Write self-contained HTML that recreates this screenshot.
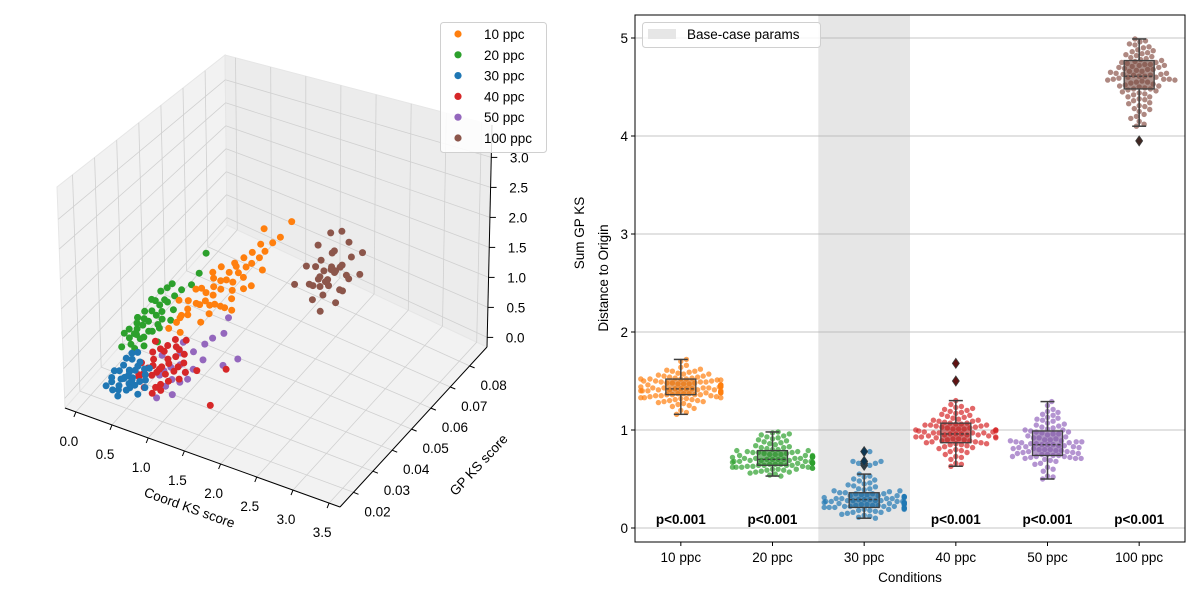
<!DOCTYPE html>
<html><head><meta charset="utf-8"><style>
html,body{margin:0;padding:0;background:#fff;}
svg{display:block;font-family:"Liberation Sans","DejaVu Sans",sans-serif;}
</style></head><body>
<svg id="fig" width="1200" height="600" viewBox="0 0 1200 600" xmlns="http://www.w3.org/2000/svg">
<g id="left"></g>
<g id="right"></g>
</svg>
<script>
// ---------- 3D scatter data ----------
const groupNames3d = ["10 ppc","20 ppc","30 ppc","40 ppc","50 ppc","100 ppc"];
const groupColors = ["#ff7f0e","#2ca02c","#1f77b4","#d62728","#9467bd","#8c564b"];
const xTicks3d = [0.0,0.5,1.0,1.5,2.0,2.5,3.0,3.5];
const yTicks3d = [0.02,0.03,0.04,0.05,0.06,0.07,0.08];
const zTicks3d = [0.0,0.5,1.0,1.5,2.0,2.5,3.0];
const pts10 = [[0.75,0.032,0.85],[0.82,0.035,0.95],[0.9,0.036,1.0],[0.95,0.04,1.05],[1.0,0.041,1.1],[1.05,0.043,1.15],[1.1,0.045,1.2],[1.12,0.047,1.3],[1.18,0.048,1.25],[1.2,0.05,1.35],[1.25,0.052,1.4],[1.3,0.053,1.45],[1.35,0.055,1.5],[1.4,0.056,1.6],[0.85,0.038,1.15],[0.92,0.042,1.25],[1.0,0.045,1.35],[1.08,0.04,0.95],[1.15,0.043,1.0],[1.22,0.046,1.05],[1.3,0.049,1.15],[0.78,0.036,1.2],[1.45,0.058,1.7],[1.5,0.06,1.75],[1.38,0.05,1.2],[1.02,0.038,0.85],[0.88,0.033,0.8],[1.6,0.062,2.0],[1.25,0.045,0.9],[1.15,0.05,1.5],[0.96,0.046,1.4],[1.33,0.058,1.9],
 [0.8,0.034,0.9],[0.87,0.037,1.05],[0.93,0.039,1.1],[0.98,0.042,1.2],[1.03,0.044,1.25],[1.07,0.046,1.3],[1.13,0.048,1.4],[1.17,0.05,1.45],[1.22,0.052,1.55],[1.28,0.054,1.6],[1.34,0.056,1.7],[0.9,0.04,1.3],[1.0,0.043,0.95],[1.1,0.042,1.05],[1.2,0.047,1.15],[1.27,0.05,1.3],[1.42,0.054,1.35],[0.84,0.035,1.0],[1.05,0.047,1.5],[1.18,0.044,0.95]];
const pts20 = [[0.35,0.027,0.7],[0.4,0.029,0.8],[0.45,0.03,0.85],[0.5,0.031,0.9],[0.55,0.033,0.95],[0.6,0.034,1.0],[0.42,0.032,1.0],[0.48,0.035,1.1],[0.38,0.03,0.95],[0.52,0.028,0.75],[0.58,0.03,0.8],[0.62,0.036,1.1],[0.66,0.038,1.15],[0.7,0.04,1.2],[0.45,0.026,0.6],[0.55,0.027,0.65],[0.65,0.031,0.85],[0.3,0.025,0.6],[0.72,0.034,0.9],[0.5,0.037,1.2],[0.6,0.039,1.3],[0.78,0.042,1.25],[0.35,0.031,0.9],[0.68,0.029,0.7],[0.8,0.045,1.35],[0.42,0.028,0.75],[0.75,0.05,1.5],
 [0.32,0.028,0.8],[0.37,0.03,0.85],[0.44,0.031,0.92],[0.49,0.033,1.0],[0.54,0.035,1.05],[0.58,0.036,1.12],[0.63,0.033,0.92],[0.4,0.026,0.65],[0.47,0.028,0.7],[0.53,0.03,0.78],[0.6,0.032,0.85],[0.28,0.027,0.75],[0.46,0.034,1.15],[0.56,0.038,1.25],[0.7,0.036,1.0],[0.36,0.029,0.7]];
const pts30 = [[0.3,0.02,0.2],[0.42,0.022,0.25],[0.55,0.021,0.3],[0.35,0.024,0.35],[0.48,0.025,0.28],[0.6,0.023,0.22],[0.25,0.019,0.15],[0.4,0.02,0.18],[0.52,0.026,0.4],[0.65,0.024,0.32],[0.38,0.027,0.45],[0.45,0.023,0.12],[0.58,0.019,0.26],[0.28,0.022,0.3],[0.7,0.022,0.2],[0.33,0.026,0.38],[0.5,0.021,0.35],[0.62,0.027,0.3],[0.44,0.018,0.1],[0.36,0.021,0.05],[0.55,0.024,0.42],[0.47,0.02,0.33],[0.66,0.02,0.15],[0.4,0.025,0.22],
 [0.32,0.023,0.28],[0.37,0.022,0.2],[0.43,0.024,0.3],[0.5,0.023,0.24],[0.56,0.022,0.18],[0.61,0.025,0.36],[0.27,0.021,0.22],[0.41,0.026,0.4],[0.53,0.019,0.2],[0.46,0.027,0.5],[0.68,0.023,0.28],[0.34,0.019,0.12]];
const pts40 = [[0.65,0.021,0.4],[0.72,0.023,0.5],[0.8,0.022,0.45],[0.88,0.024,0.55],[0.95,0.025,0.6],[0.7,0.026,0.65],[0.78,0.027,0.7],[0.85,0.028,0.75],[0.92,0.022,0.35],[1.0,0.023,0.4],[1.05,0.026,0.55],[1.1,0.027,0.6],[0.75,0.02,0.3],[0.82,0.025,0.45],[0.9,0.03,0.8],[0.6,0.024,0.5],[0.98,0.029,0.7],[1.12,0.024,0.45],[0.68,0.028,0.75],[0.86,0.02,0.25],[1.05,0.03,0.85],[0.95,0.021,0.3],[1.55,0.024,0.2],[1.6,0.03,0.6],[1.25,0.028,0.5],
 [0.68,0.022,0.42],[0.76,0.024,0.52],[0.84,0.023,0.48],[0.91,0.026,0.62],[0.99,0.027,0.66],[0.74,0.025,0.58],[0.83,0.027,0.68],[0.93,0.024,0.45],[1.02,0.025,0.5],[1.08,0.028,0.7],[0.62,0.022,0.38],[0.88,0.021,0.32],[0.97,0.028,0.78],[1.15,0.026,0.5]];
const pts50 = [[0.85,0.024,0.4],[0.95,0.026,0.5],[1.05,0.027,0.55],[1.1,0.025,0.35],[0.9,0.022,0.3],[1.0,0.029,0.65],[1.15,0.03,0.7],[1.2,0.028,0.5],[0.8,0.027,0.6],[1.08,0.022,0.25],[1.25,0.032,0.8],[1.3,0.034,0.85],[1.4,0.036,0.9],[0.98,0.031,0.75],[1.5,0.032,0.55],[1.62,0.035,0.6],[1.35,0.04,1.0],[0.92,0.02,0.2],
 [0.88,0.025,0.45],[1.02,0.024,0.4],[1.12,0.027,0.45],[0.96,0.023,0.3],[1.18,0.026,0.4],[1.28,0.03,0.62]];
const pts100 = [[2.0,0.062,1.2],[2.1,0.064,1.3],[2.05,0.066,1.25],[1.95,0.063,1.1],[2.15,0.061,1.15],[2.2,0.065,1.35],[1.9,0.066,1.3],[2.25,0.063,1.05],[2.0,0.068,1.4],[2.1,0.06,1.0],[1.85,0.062,1.0],[2.3,0.067,1.5],[2.18,0.07,1.6],[1.98,0.059,0.9],[2.28,0.06,0.95],[1.8,0.068,1.45],[2.35,0.064,1.25],[2.05,0.071,1.7],[1.75,0.064,1.2],[2.12,0.058,0.8],[2.4,0.069,1.55],[1.92,0.07,1.65],[2.22,0.062,1.4],[2.02,0.064,1.05],[1.7,0.06,1.0],[2.45,0.066,1.3],
 [2.08,0.063,1.15],[2.12,0.065,1.22],[1.97,0.065,1.18],[2.03,0.061,1.08],[2.17,0.067,1.3],[2.26,0.066,1.2],[1.93,0.061,1.05],[2.14,0.063,1.35],[2.06,0.067,1.5],[1.88,0.064,1.25],[2.32,0.062,1.1]];
const groups3d = [pts10,pts20,pts30,pts40,pts50,pts100];

// ---------- swarm/box data ----------
const categories = ["10 ppc","20 ppc","30 ppc","40 ppc","50 ppc","100 ppc"];
const yTicksR = [0,1,2,3,4,5];
const pLabels = ["p<0.001","p<0.001","","p<0.001","p<0.001","p<0.001"];
const boxQ1 = [1.36,0.64,0.21,0.87,0.74,4.48];
const boxMed = [1.42,0.70,0.29,0.96,0.85,4.61];
const boxQ3 = [1.52,0.79,0.36,1.07,0.99,4.77];
const whiskLo = [1.16,0.53,0.10,0.63,0.50,4.10];
const whiskHi = [1.72,0.98,0.55,1.30,1.29,4.99];
const outliers = [[],[],[0.64,0.66,0.68,0.78],[1.50,1.68],[],[3.95]];
const v10 = [1.16,1.18,1.22,1.25,1.27,1.28,1.29,1.30,1.31,1.32,1.33,1.33,1.34,1.35,1.35,1.36,1.36,1.37,1.37,1.38,1.38,1.39,1.39,1.40,1.40,1.41,1.41,1.42,1.42,1.42,1.43,1.43,1.44,1.44,1.45,1.45,1.46,1.46,1.47,1.47,1.48,1.48,1.49,1.50,1.50,1.51,1.52,1.52,1.53,1.54,1.55,1.56,1.57,1.58,1.60,1.60,1.62,1.66,1.70,1.72,
 1.20,1.24,1.26,1.29,1.30,1.31,1.32,1.33,1.34,1.35,1.36,1.37,1.38,1.39,1.40,1.40,1.41,1.42,1.43,1.43,1.44,1.45,1.45,1.46,1.47,1.48,1.49,1.49,1.50,1.51,1.52,1.53,1.54,1.55,1.57,1.59,1.61,1.64,1.38,1.41,1.44,1.46,1.36,1.52];
const v20 = [0.53,0.55,0.56,0.57,0.58,0.59,0.60,0.60,0.61,0.62,0.62,0.63,0.63,0.64,0.64,0.65,0.65,0.66,0.66,0.67,0.67,0.68,0.68,0.69,0.69,0.70,0.70,0.71,0.71,0.72,0.72,0.73,0.73,0.74,0.75,0.75,0.76,0.77,0.77,0.78,0.79,0.80,0.81,0.82,0.83,0.85,0.86,0.88,0.90,0.92,0.93,0.95,0.96,0.98,
 0.54,0.57,0.59,0.60,0.61,0.62,0.63,0.64,0.65,0.66,0.67,0.68,0.69,0.70,0.70,0.71,0.72,0.73,0.74,0.74,0.75,0.76,0.77,0.78,0.79,0.80,0.82,0.84,0.87,0.89,0.91,0.94,0.97,0.66,0.68,0.71,0.73,0.62,0.64];
const v30 = [0.10,0.12,0.13,0.15,0.16,0.17,0.18,0.19,0.19,0.20,0.20,0.21,0.21,0.22,0.22,0.23,0.23,0.24,0.24,0.25,0.25,0.26,0.26,0.27,0.27,0.28,0.28,0.29,0.29,0.30,0.30,0.31,0.31,0.32,0.32,0.33,0.33,0.34,0.35,0.35,0.36,0.37,0.38,0.39,0.40,0.42,0.44,0.46,0.48,0.50,0.52,0.55,0.64,0.66,0.68,0.78,
 0.11,0.14,0.16,0.18,0.19,0.20,0.21,0.22,0.23,0.24,0.25,0.26,0.27,0.28,0.29,0.30,0.31,0.32,0.33,0.34,0.36,0.38,0.40,0.43,0.45,0.49,0.53,0.22,0.24,0.26,0.28,0.30,0.20,0.25,0.35,0.21,0.27];
const v40 = [0.63,0.66,0.70,0.73,0.75,0.77,0.79,0.81,0.82,0.84,0.85,0.86,0.87,0.88,0.89,0.90,0.91,0.92,0.93,0.93,0.94,0.95,0.95,0.96,0.96,0.97,0.97,0.98,0.99,1.00,1.00,1.01,1.02,1.03,1.04,1.05,1.05,1.06,1.07,1.08,1.09,1.10,1.11,1.12,1.14,1.15,1.17,1.19,1.21,1.23,1.26,1.30,
 0.65,0.72,0.78,0.80,0.83,0.85,0.87,0.88,0.90,0.91,0.92,0.94,0.95,0.96,0.97,0.98,0.99,1.00,1.01,1.02,1.03,1.04,1.06,1.07,1.09,1.10,1.13,1.16,1.18,1.20,1.22,1.24,0.93,0.97,1.01,1.05,0.89,0.86];
const v50 = [0.50,0.53,0.58,0.62,0.65,0.68,0.70,0.71,0.72,0.73,0.74,0.75,0.76,0.77,0.78,0.79,0.80,0.80,0.81,0.82,0.83,0.84,0.85,0.85,0.86,0.87,0.88,0.89,0.90,0.91,0.92,0.93,0.95,0.96,0.97,0.98,0.99,1.00,1.01,1.03,1.05,1.07,1.09,1.11,1.13,1.15,1.18,1.21,1.25,1.29,
 0.52,0.60,0.66,0.69,0.71,0.72,0.73,0.74,0.75,0.76,0.77,0.78,0.79,0.80,0.82,0.83,0.84,0.86,0.87,0.88,0.89,0.90,0.92,0.94,0.96,0.98,1.00,1.02,1.04,1.06,1.10,1.12,1.16,1.19,0.71,0.73,0.81,0.85,0.88];
const v100 = [4.10,4.15,4.20,4.25,4.28,4.30,4.33,4.36,4.38,4.40,4.42,4.44,4.46,4.47,4.48,4.50,4.51,4.52,4.54,4.55,4.56,4.57,4.58,4.59,4.60,4.61,4.62,4.63,4.64,4.65,4.66,4.68,4.69,4.70,4.72,4.73,4.74,4.75,4.77,4.78,4.80,4.82,4.84,4.86,4.88,4.90,4.93,4.96,4.99,
 4.12,4.18,4.22,4.27,4.31,4.34,4.37,4.40,4.43,4.45,4.48,4.49,4.51,4.53,4.55,4.57,4.58,4.60,4.61,4.62,4.64,4.66,4.67,4.70,4.71,4.73,4.75,4.76,4.79,4.81,4.83,4.85,4.87,4.91,4.94,4.97,4.58,4.63,4.68,4.72];
const swarmValues = [v10,v20,v30,v40,v50,v100];

const NS="http://www.w3.org/2000/svg";
function mk(parent,tag,attrs,text){const e=document.createElementNS(NS,tag);for(const k in attrs)e.setAttribute(k,attrs[k]);if(text!==undefined)e.textContent=text;parent.appendChild(e);return e;}

// ---------- 3D ----------
const L=document.getElementById('left');
const xr=[-0.15,3.65], yr=[0.013,0.089], zr=[-0.16,3.54];
// corner screen positions C[ix][iy][iz]
const C=[[[[65,408],[57,187]],[[227,225],[225,55]]],[[[340,507],[345,265]],[[487,347],[492,125]]]];
function lerp(a,b,t){return [a[0]+(b[0]-a[0])*t,a[1]+(b[1]-a[1])*t];}
function proj(x,y,z){const ux=(x-xr[0])/(xr[1]-xr[0]), uy=(y-yr[0])/(yr[1]-yr[0]), uz=(z-zr[0])/(zr[1]-zr[0]);
 const b0=lerp(lerp(C[0][0][0],C[1][0][0],ux),lerp(C[0][1][0],C[1][1][0],ux),uy);
 const b1=lerp(lerp(C[0][0][1],C[1][0][1],ux),lerp(C[0][1][1],C[1][1][1],ux),uy);
 return lerp(b0,b1,uz);}
function poly(pts){return pts.map(p=>p[0].toFixed(1)+','+p[1].toFixed(1)).join(' ');}
const X0=xr[0],X1=xr[1],Y0=yr[0],Y1=yr[1],Z0=zr[0],Z1=zr[1];
const floor=mk(L,'polygon',{points:poly([proj(X0,Y0,Z0),proj(X1,Y0,Z0),proj(X1,Y1,Z0),proj(X0,Y1,Z0)]),fill:'#f2f2f2',stroke:'#e6e6e6'});

const lw=mk(L,'polygon',{points:poly([proj(X0,Y0,Z0),proj(X0,Y1,Z0),proj(X0,Y1,Z1),proj(X0,Y0,Z1)]),fill:'#f2f2f2',stroke:'#e6e6e6'});

const bw=mk(L,'polygon',{points:poly([proj(X0,Y1,Z0),proj(X1,Y1,Z0),proj(X1,Y1,Z1),proj(X0,Y1,Z1)]),fill:'#ececec',stroke:'#e6e6e6'});

function line(g,a,b,st,w){return mk(g,'line',{x1:a[0].toFixed(1),y1:a[1].toFixed(1),x2:b[0].toFixed(1),y2:b[1].toFixed(1),stroke:st,'stroke-width':w});}
const grid=mk(L,'g',{});
const gc='#d0d0d0';
xTicks3d.forEach(t=>{line(grid,proj(t,Y0,Z0),proj(t,Y1,Z0),gc,0.8);line(grid,proj(t,Y1,Z0),proj(t,Y1,Z1),gc,0.8);});
yTicks3d.forEach(t=>{line(grid,proj(X0,t,Z0),proj(X1,t,Z0),gc,0.8);line(grid,proj(X0,t,Z0),proj(X0,t,Z1),gc,0.8);});
zTicks3d.forEach(t=>{line(grid,proj(X0,Y0,t),proj(X0,Y1,t),gc,0.8);line(grid,proj(X0,Y1,t),proj(X1,Y1,t),gc,0.8);});
const ax=mk(L,'g',{});
line(ax,proj(X0,Y0,Z0),proj(X1,Y0,Z0),'#000',1);
line(ax,proj(X1,Y0,Z0),proj(X1,Y1,Z0),'#000',1);
line(ax,proj(X1,Y1,Z0),proj(X1,Y1,Z1),'#000',1);
xTicks3d.forEach(t=>{const p=proj(t,Y0,Z0);line(ax,p,[p[0]-2,p[1]+5],'#000',1);
 const tx=mk(ax,'text',{x:(p[0]-7).toFixed(1),y:(p[1]+34).toFixed(1),'text-anchor':'middle','font-size':13.5,fill:'#000'},t.toFixed(1));
 });
yTicks3d.forEach(t=>{const p=proj(X1,t,Z0);line(ax,p,[p[0]+5,p[1]+2],'#000',1);
 const tx=mk(ax,'text',{x:(p[0]+24).toFixed(1),y:(p[1]+24).toFixed(1),'text-anchor':'middle','font-size':13.5,fill:'#000'},t.toFixed(2));
 });
zTicks3d.forEach(t=>{const p=proj(X1,Y1,t);line(ax,p,[p[0]+6,p[1]],'#000',1);
 const tx=mk(ax,'text',{x:(p[0]+28).toFixed(1),y:(p[1]+5).toFixed(1),'text-anchor':'middle','font-size':13.5,fill:'#000'},t.toFixed(1));
 });
const xt=mk(L,'text',{x:188,y:512,'text-anchor':'middle','font-size':13.5,transform:'rotate(19.7 188 512)'},'Coord KS score');

const yt=mk(L,'text',{x:482,y:468,'text-anchor':'middle','font-size':13.5,transform:'rotate(-47 482 468)'},'GP KS score');

const zt=mk(L,'text',{x:584,y:233,'text-anchor':'middle','font-size':13.5,transform:'rotate(-90 584 233)'},'Sum GP KS');

const order=[5,1,0,4,3,2];
order.forEach(gi=>{const g=mk(L,'g',{});
 
 groups3d[gi].forEach(pt=>{const p=proj(pt[0],pt[1],pt[2]);
  const c=mk(g,'circle',{cx:p[0].toFixed(1),cy:p[1].toFixed(1),r:3.5,fill:groupColors[gi]});
  });});
const lg=mk(L,'g',{});
mk(lg,'rect',{x:440.5,y:22.5,width:106,height:130,rx:3,fill:'#fff','fill-opacity':0.85,stroke:'#d0d0d0'});
groupNames3d.forEach((n,i)=>{const y=34+i*20.8;
 const e=mk(lg,'g',{});
 mk(e,'circle',{cx:458,cy:y,r:3.6,fill:groupColors[i]});
 mk(e,'text',{x:484,y:y+5,'font-size':13.5},n);});

// ---------- right chart ----------
const R=document.getElementById('right');
const AL=635,AR=1185,AT=15,AB=542;
const yv=v=>528-v*98;
const step=(AR-AL)/categories.length;
const cx=i=>AL+(i+0.5)*step;
const band=mk(R,'rect',{x:(cx(2)-step/2).toFixed(1),y:AT,width:step.toFixed(1),height:AB-AT,fill:'#e6e6e6'});

yTicksR.forEach(t=>{const y=yv(t);
 const gl=mk(R,'line',{x1:AL,x2:AR,y1:y,y2:y,stroke:'#b0b0b0','stroke-width':0.8});
 
 mk(R,'line',{x1:AL-4,x2:AL,y1:y,y2:y,stroke:'#000'});
 const tx=mk(R,'text',{x:AL-7,y:y+5,'text-anchor':'end','font-size':13.5},String(t));
 });
function darker(hex,f){const n=parseInt(hex.slice(1),16);const r=(n>>16)&255,g=(n>>8)&255,b=n&255;return 'rgb('+Math.round(r*f)+','+Math.round(g*f)+','+Math.round(b*f)+')';}
categories.forEach((c,i)=>{
 const vals=swarmValues[i].concat(outliers[i]);const col=groupColors[i];
 const g=mk(R,'g',{});
 const sw=mk(g,'g',{});
 const placed=[];const d=5.4;const sorted=[...vals].sort((a,b)=>Math.abs(a-boxMed[i])-Math.abs(b-boxMed[i]));
 sorted.forEach(v=>{const y=yv(v);let off=0;
  for(let k=0;k<400;k++){const o=(k%2?1:-1)*Math.ceil(k/2)*0.7;
   if(placed.every(p=>(p[0]-o)**2+(p[1]-y)**2>=d*d)){off=o;break;}}
  if(off>40)off=40;if(off<-40)off=-40;placed.push([off,y]);
  const pc=mk(sw,'circle',{cx:(cx(i)+off).toFixed(1),cy:y.toFixed(1),r:2.7,fill:col,'fill-opacity':0.7});
  });
 const q1=boxQ1[i],med=boxMed[i],q3=boxQ3[i],wl=whiskLo[i],wh=whiskHi[i];
 const bx=mk(g,'g',{});
 const ec='#3f3f3f',bw2=15;
 mk(bx,'line',{x1:cx(i),x2:cx(i),y1:yv(wh),y2:yv(q3),stroke:ec,'stroke-width':1.5});
 mk(bx,'line',{x1:cx(i),x2:cx(i),y1:yv(q1),y2:yv(wl),stroke:ec,'stroke-width':1.5});
 mk(bx,'line',{x1:cx(i)-7,x2:cx(i)+7,y1:yv(wh),y2:yv(wh),stroke:ec,'stroke-width':1.5});
 mk(bx,'line',{x1:cx(i)-7,x2:cx(i)+7,y1:yv(wl),y2:yv(wl),stroke:ec,'stroke-width':1.5});
 mk(bx,'rect',{x:cx(i)-bw2,y:yv(q3),width:2*bw2,height:yv(q1)-yv(q3),fill:darker(col,0.85),'fill-opacity':0.6,stroke:ec,'stroke-width':1.3});
 mk(bx,'line',{x1:cx(i)-bw2,x2:cx(i)+bw2,y1:yv(med),y2:yv(med),stroke:ec,'stroke-width':1.3,'stroke-dasharray':'3,2'});
 outliers[i].forEach(v=>{const y=yv(v);
  const o=mk(bx,'polygon',{points:`${cx(i)},${y-5} ${cx(i)+3.5},${y} ${cx(i)},${y+5} ${cx(i)-3.5},${y}`,fill:darker(col,0.45),stroke:ec,'stroke-width':0.8});
  });
 mk(R,'line',{x1:cx(i),x2:cx(i),y1:AB,y2:AB+4,stroke:'#000'});
 const tl=mk(R,'text',{x:cx(i),y:AB+20,'text-anchor':'middle','font-size':13.5},c);
 
 if(pLabels[i]){const pl=mk(R,'text',{x:cx(i),y:524,'text-anchor':'middle','font-size':13.5,'font-weight':'bold'},pLabels[i]);
  }
});
const fr=mk(R,'rect',{x:AL,y:AT,width:AR-AL,height:AB-AT,fill:'none',stroke:'#000','stroke-width':1});

const xl=mk(R,'text',{x:910,y:582,'text-anchor':'middle','font-size':13.5},'Conditions');

const yl=mk(R,'text',{x:608,y:278,'text-anchor':'middle','font-size':13.5,transform:'rotate(-90 608 278)'},'Distance to Origin');

const lr=mk(R,'g',{});
mk(lr,'rect',{x:642.5,y:22.5,width:178,height:25,rx:3,fill:'#fff','fill-opacity':0.85,stroke:'#d0d0d0'});
mk(lr,'rect',{x:648,y:29,width:28,height:10,fill:'#e6e6e6'});
mk(lr,'text',{x:687,y:39,'font-size':13.5},'Base-case params');
</script>
</body></html>
